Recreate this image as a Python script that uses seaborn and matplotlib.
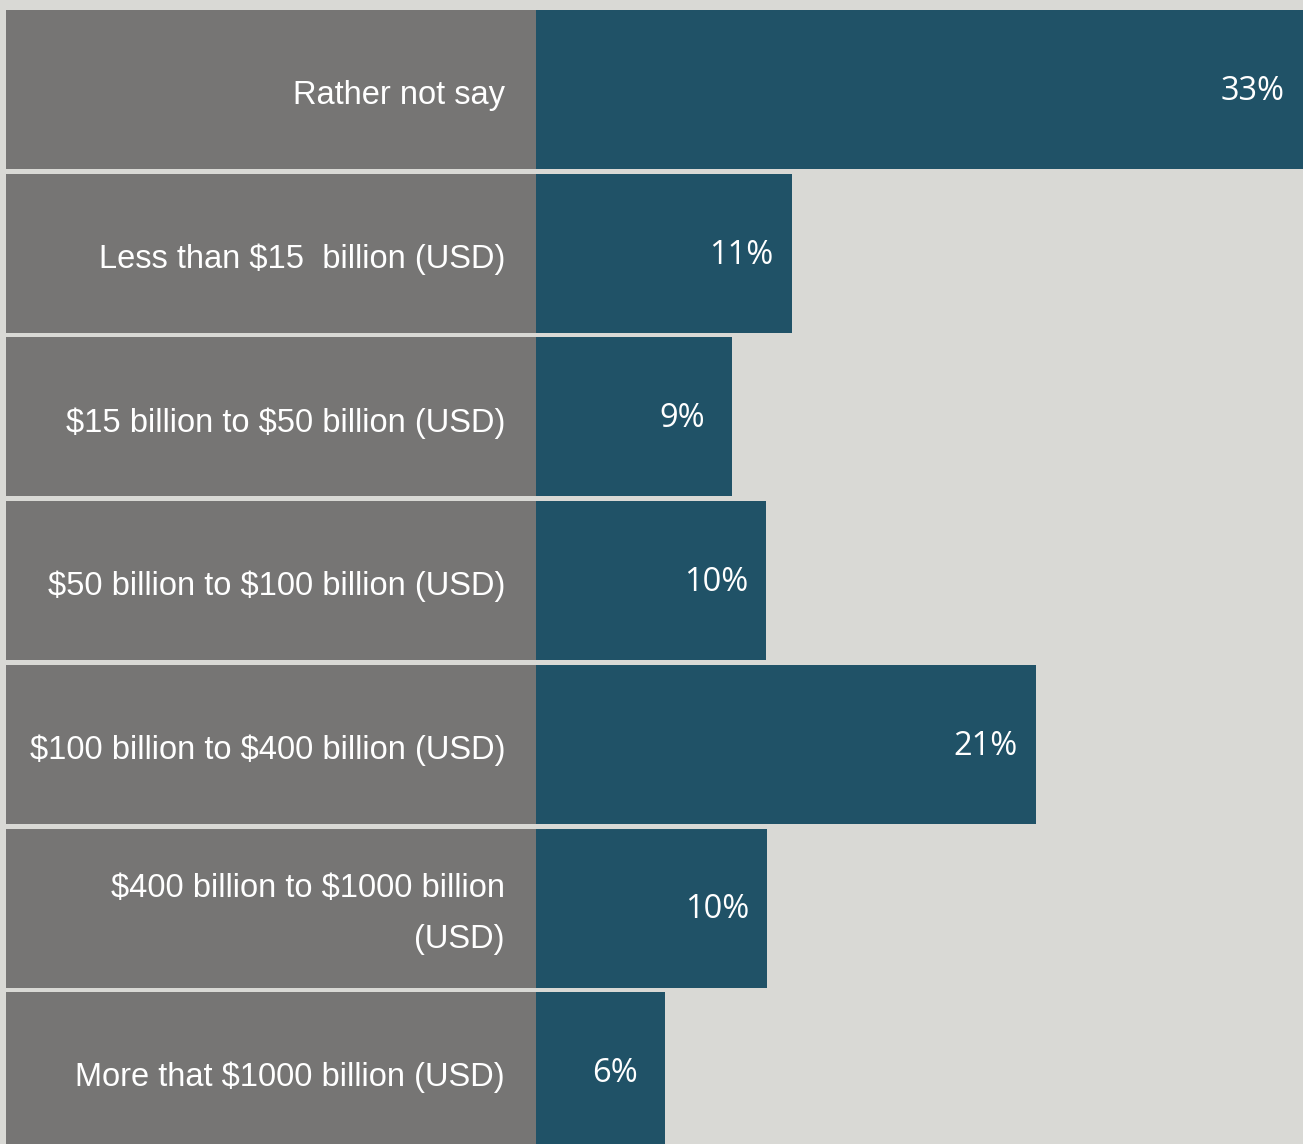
import matplotlib
matplotlib.use("Agg")
import matplotlib.pyplot as plt
import seaborn as sns
import pandas as pd

categories = [
    "Rather not say",
    "Less than $15  billion (USD)",
    "$15 billion to $50 billion (USD)",
    "$50 billion to $100 billion (USD)",
    "$100 billion to $400 billion (USD)",
    "$400 billion to $1000 billion\n(USD)",
    "More that $1000 billion (USD)",
]
values = [33.0, 11.0, 8.45, 9.9, 21.5, 9.95, 5.55]
value_labels = ["33%", "11%", "9%", "10%", "21%", "10%", "6%"]

BG = "#d9d9d5"
TEAL = "#205267"
GRAY = "#767574"

sns.set_theme(style="white")
plt.rcParams["font.family"] = ["Liberation Sans", "DejaVu Sans"]

df = pd.DataFrame({"category": categories, "value": values})

fig = plt.figure(figsize=(13.03, 11.44), dpi=100, facecolor=BG)
ax = fig.add_axes([0, 0, 1, 1])
ax.set_facecolor(BG)

px = 23.24  # pixels per percent
xmin = -536 / px
xmax = 767 / px
pitch = 163.7
ytop = -89.5 / pitch
ybot = (1144 - 89.5) / pitch
bar_h = 159 / pitch

# grey label boxes
box_left = xmin + 6 / px
ax.barh(range(len(categories)), [-box_left] * len(categories), left=box_left,
        height=bar_h, color=GRAY, linewidth=0, zorder=1)

sns.barplot(data=df, x="value", y="category", orient="h", color=TEAL,
            width=bar_h, saturation=1, linewidth=0, ax=ax, zorder=2)

for i, (cat, v, lab) in enumerate(zip(categories, values, value_labels)):
    ax.annotate(cat, xy=(0, i), xytext=(-31, -6), textcoords="offset pixels",
                ha="right", va="center", color="white", fontsize=23.5,
                linespacing=1.8, zorder=3, parse_math=False)
    ax.annotate(lab, xy=(v, i), xytext=(-50, -2), textcoords="offset pixels",
                ha="center", va="center", color="white", fontsize=23.5,
                family=["Open Sans", "DejaVu Sans"], zorder=3,
                parse_math=False)

ax.set_xlim(xmin, xmax)
ax.set_ylim(ybot, ytop)
ax.set_xlabel("")
ax.set_ylabel("")
ax.set_xticks([])
ax.set_yticks([])
for s in ax.spines.values():
    s.set_visible(False)

fig.savefig("out.png", dpi=100, facecolor=BG)
